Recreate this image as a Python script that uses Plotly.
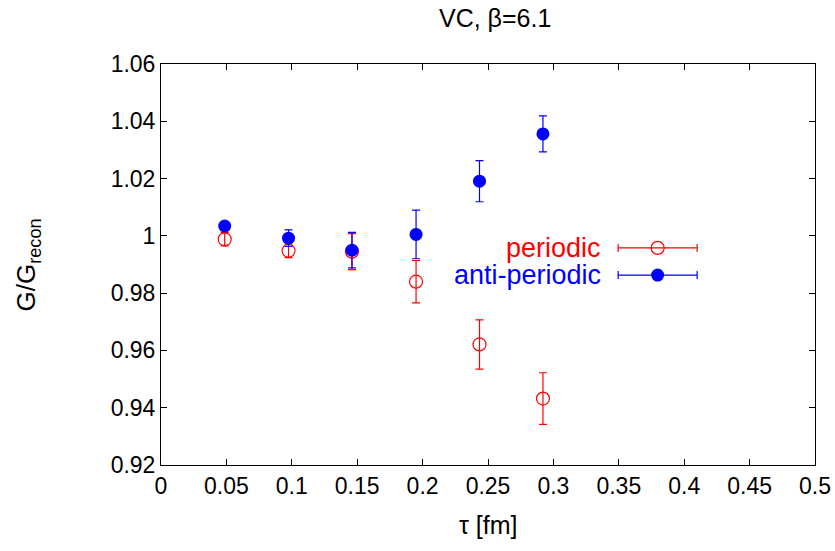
import plotly.graph_objects as go

# data
tau = [0.0487, 0.0975, 0.146, 0.195, 0.2435, 0.292]
per_y = [0.9988, 0.9948, 0.9945, 0.9840, 0.9621, 0.9432]
per_err = [0.0023, 0.0024, 0.0063, 0.0074, 0.0086, 0.0090]
anti_y = [1.0034, 0.9992, 0.9950, 1.0005, 1.0191, 1.0356]
anti_err = [0.0008, 0.0029, 0.0062, 0.0085, 0.0072, 0.0063]

x_ticks = [0, 0.05, 0.1, 0.15, 0.2, 0.25, 0.3, 0.35, 0.4, 0.45, 0.5]
x_ticktext = ["0", "0.05", "0.1", "0.15", "0.2", "0.25", "0.3", "0.35", "0.4", "0.45", "0.5"]
y_ticks = [0.92, 0.94, 0.96, 0.98, 1.0, 1.02, 1.04, 1.06]
y_ticktext = ["0.92", "0.94", "0.96", "0.98", "1", "1.02", "1.04", "1.06"]

series_names = ["periodic", "anti-periodic"]
RED = "#ff0000"
BLUE = "#0000ff"
FONT = "Liberation Sans, Arial, sans-serif"

# legend key placement (data coordinates)
key_x = 0.3797
key_half = 0.0302
key_y = [0.9958, 0.9863]
key_text_x = 0.3375

fig = go.Figure()

fig.add_trace(go.Scatter(
    x=tau, y=per_y, mode="markers",
    marker=dict(symbol="circle-open", size=13, color=RED, line=dict(width=1.2, color=RED)),
    error_y=dict(type="data", array=per_err, color=RED, thickness=1.2, width=4),
    showlegend=False))
fig.add_trace(go.Scatter(
    x=tau, y=anti_y, mode="markers",
    marker=dict(symbol="circle", size=13, color=BLUE),
    error_y=dict(type="data", array=anti_err, color=BLUE, thickness=1.2, width=4),
    showlegend=False))

# legend keys
fig.add_trace(go.Scatter(
    x=[key_x], y=[key_y[0]], mode="markers",
    marker=dict(symbol="circle-open", size=13, color=RED, line=dict(width=1.2, color=RED)),
    error_x=dict(type="data", array=[key_half], color=RED, thickness=1.2, width=4),
    showlegend=False, hoverinfo="skip"))
fig.add_trace(go.Scatter(
    x=[key_x], y=[key_y[1]], mode="markers",
    marker=dict(symbol="circle", size=13, color=BLUE),
    error_x=dict(type="data", array=[key_half], color=BLUE, thickness=1.2, width=4),
    showlegend=False, hoverinfo="skip"))

for name, ky, col in zip(series_names, key_y, [RED, BLUE]):
    fig.add_annotation(x=key_text_x, y=ky, text=name, showarrow=False,
                       xanchor="right", yanchor="middle", borderpad=0,
                       font=dict(family=FONT, size=27, color=col))

# axis titles as annotations
fig.add_annotation(x=0.5, y=-0.1496, xref="paper", yref="paper", text="τ [fm]",
                   showarrow=False, xanchor="center", yanchor="middle",
                   font=dict(family=FONT, size=25, color="black"))
fig.add_annotation(x=-0.2034, y=0.5, xref="paper", yref="paper",
                   text="G/G<sub>recon</sub>", textangle=-90,
                   showarrow=False, xanchor="center", yanchor="middle",
                   font=dict(family=FONT, size=26, color="black"))

fig.update_layout(
    width=835, height=551,
    margin=dict(l=161, r=20, t=64, b=86, autoexpand=False),
    paper_bgcolor="white", plot_bgcolor="white",
    font=dict(family=FONT, size=20, color="black"),
    title=dict(text="VC, β=6.1", x=0.511, xref="paper", xanchor="center",
               y=1 - 18 / 551, yref="container", yanchor="middle",
               font=dict(family=FONT, size=25, color="black")),
    showlegend=False,
)
fig.update_xaxes(
    range=[0, 0.5], tickvals=x_ticks, ticktext=x_ticktext,
    ticks="inside", ticklen=6, tickcolor="black", tickwidth=1,
    showline=True, linecolor="black", linewidth=1, mirror="ticks",
    showgrid=False, zeroline=False, automargin=False,
    tickfont=dict(family=FONT, size=23),
)
fig.update_yaxes(
    range=[0.92, 1.06], tickvals=y_ticks, ticktext=y_ticktext,
    ticks="inside", ticklen=6, tickcolor="black", tickwidth=1,
    showline=True, linecolor="black", linewidth=1, mirror="ticks",
    showgrid=False, zeroline=False, automargin=False,
    tickfont=dict(family=FONT, size=23),
)

fig.write_html("out.html")
